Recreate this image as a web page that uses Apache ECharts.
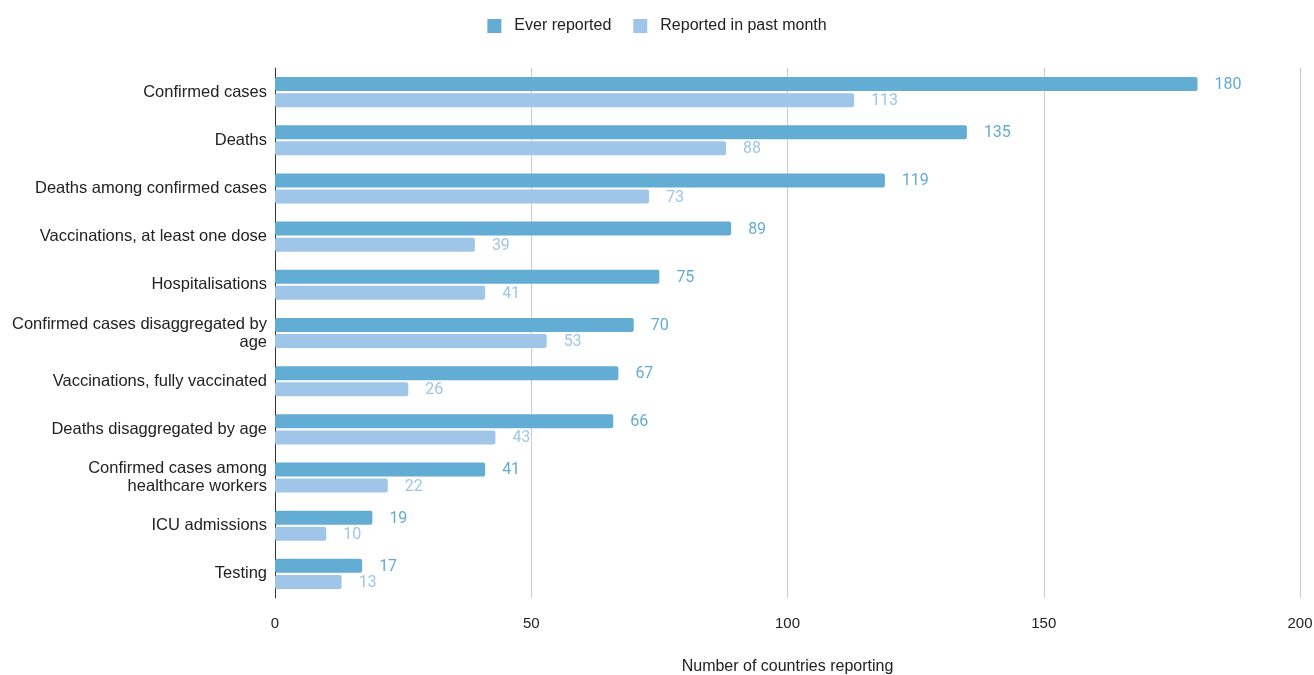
<!DOCTYPE html>
<html>
<head>
    <meta charset="utf-8">
    <title>Countries reporting</title>
    <script src="https://cdn.jsdelivr.net/npm/echarts@6/dist/echarts.min.js"></script>
    <style>
        html, body { margin: 0; padding: 0; background: #fff; }
    </style>
</head>
<body>
<div id="main" style="width:1314px; height:675px;"></div>

<script type="text/javascript">
    // categories, top to bottom
    var categories = [
        'Confirmed cases',
        'Deaths',
        'Deaths among confirmed cases',
        'Vaccinations, at least one dose',
        'Hospitalisations',
        'Confirmed cases disaggregated by\nage',
        'Vaccinations, fully vaccinated',
        'Deaths disaggregated by age',
        'Confirmed cases among\nhealthcare workers',
        'ICU admissions',
        'Testing'
    ];
    var everReported = [180, 135, 119, 89, 75, 70, 67, 66, 41, 19, 17];
    var pastMonth = [113, 88, 73, 39, 41, 53, 26, 43, 22, 10, 13];
    var xTicks = [0, 50, 100, 150, 200];

    var myChart = echarts.init(document.getElementById('main'));

    function barSeries(name, data, color) {
        return {
            name: name,
            type: 'bar',
            data: data,
            barWidth: 14,
            barGap: '15%',
            itemStyle: { color: color, borderRadius: 2 },
            label: {
                show: true,
                position: 'right',
                distance: 17,
                offset: [0, 1],
                color: color,
                fontFamily: 'Roboto',
                fontSize: 16
            }
        };
    }

    var option = {
        animation: false,
        textStyle: { fontFamily: 'Liberation Sans, Arial, sans-serif' },
        legend: {
            top: 13,
            left: 'center',
            itemWidth: 14,
            itemHeight: 14,
            itemGap: 22,
            icon: 'rect',
            textStyle: { fontSize: 16, color: '#222', padding: [0, 0, 0, 8] },
            data: ['Ever reported', 'Reported in past month']
        },
        grid: {
            left: 275, right: 14, top: 68, bottom: 77,
            containLabel: false,
            outerBoundsMode: 'none'
        },
        xAxis: {
            type: 'value',
            min: xTicks[0],
            max: xTicks[xTicks.length - 1],
            interval: 50,
            name: 'Number of countries reporting',
            nameLocation: 'middle',
            nameGap: 61,
            nameTextStyle: { fontSize: 16, color: '#222' },
            axisLine: { show: false },
            axisTick: { show: false },
            axisLabel: { fontSize: 15, color: '#222', margin: 18 },
            splitLine: { lineStyle: { color: '#cccccc' } }
        },
        yAxis: {
            type: 'category',
            inverse: true,
            data: categories,
            axisLine: { show: true, onZero: false, lineStyle: { color: '#333' } },
            axisTick: { show: false },
            axisLabel: { fontSize: 16.5, color: '#222', margin: 8, lineHeight: 18 }
        },
        series: [
            barSeries('Ever reported', everReported, '#63acd3'),
            barSeries('Reported in past month', pastMonth, '#9fc5e8')
        ]
    };
    myChart.setOption(option);
</script>
</body>
</html>
